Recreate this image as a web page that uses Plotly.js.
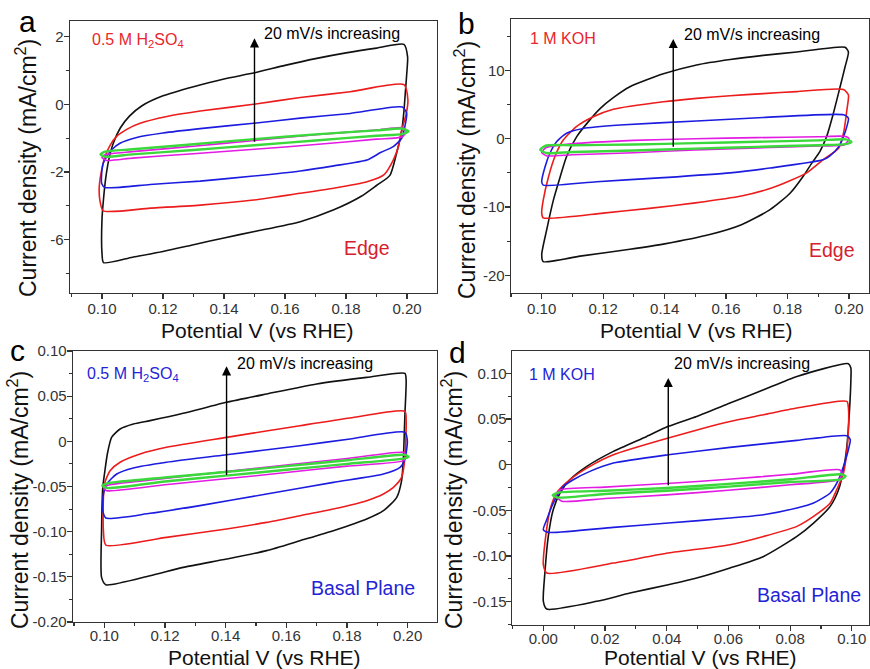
<!DOCTYPE html>
<html><head><meta charset="utf-8">
<script src="https://cdn.plot.ly/plotly-3.0.1.min.js"></script>
<style>html,body{margin:0;padding:0;background:#fff}#g{width:870px;height:669px}</style>
</head><body><div id="g"></div>
<script>
// ---------- Panel a : Edge, 0.5 M H2SO4 ----------
const a_black_x=[0.1000,0.1000,0.1005,0.1012,0.1022,0.1037,0.1060,0.1090,0.1130,0.1200,0.1300,0.1400,0.1500,0.1600,0.1700,0.1800,0.1900,0.1990,0.2002,0.2000,0.1995,0.1990,0.1983,0.1966,0.1944,0.1900,0.1850,0.1760,0.1650,0.1500,0.1400,0.1300,0.1200,0.1100,0.1005,0.1000];
const a_black_y=[-4.40,-3.40,-2.80,-2.20,-1.65,-1.15,-0.70,-0.35,-0.05,0.25,0.52,0.75,0.93,1.15,1.35,1.52,1.66,1.77,1.40,1.00,0.40,-0.20,-0.76,-1.44,-2.10,-2.40,-2.72,-3.12,-3.47,-3.76,-3.95,-4.15,-4.35,-4.52,-4.68,-4.40];
const a_red_x=[0.1004,0.0993,0.0991,0.0999,0.1010,0.1026,0.1048,0.1081,0.1125,0.1213,0.1322,0.1497,0.1650,0.1814,0.1990,0.2003,0.1998,0.1983,0.1972,0.1955,0.1925,0.1869,0.1760,0.1650,0.1497,0.1322,0.1158,0.1004];
const a_red_y=[-3.15,-2.83,-2.44,-1.94,-1.55,-1.22,-0.95,-0.74,-0.56,-0.36,-0.20,0.00,0.20,0.37,0.58,0.13,-0.26,-0.76,-1.25,-1.65,-2.08,-2.29,-2.48,-2.63,-2.83,-2.98,-3.07,-3.15];
const a_blue_x=[0.1010,0.0999,0.0999,0.1004,0.1015,0.1031,0.1059,0.1114,0.1200,0.1322,0.1497,0.1650,0.1814,0.1985,0.1999,0.1993,0.1983,0.1955,0.1915,0.1869,0.1760,0.1650,0.1497,0.1322,0.1158,0.1010];
const a_blue_y=[-2.46,-2.34,-2.04,-1.74,-1.55,-1.35,-1.15,-0.98,-0.85,-0.72,-0.56,-0.41,-0.27,-0.08,-0.27,-0.66,-1.00,-1.25,-1.42,-1.65,-1.82,-1.97,-2.12,-2.27,-2.37,-2.46];
const a_mag_x=[0.1000,0.1010,0.1100,0.1300,0.1500,0.1700,0.1900,0.1985,0.1998,0.1985,0.1900,0.1700,0.1500,0.1300,0.1100,0.1015,0.1000];
const a_mag_y=[-1.57,-1.49,-1.40,-1.24,-1.07,-0.90,-0.76,-0.69,-0.78,-0.96,-1.03,-1.19,-1.33,-1.46,-1.59,-1.66,-1.57];
const a_green_x=[0.0995,0.1010,0.1100,0.1300,0.1500,0.1700,0.1900,0.1985,0.2005,0.1985,0.1900,0.1700,0.1500,0.1300,0.1100,0.1010,0.0995];
const a_green_y=[-1.48,-1.40,-1.33,-1.18,-1.03,-0.89,-0.77,-0.72,-0.80,-0.88,-0.93,-1.07,-1.21,-1.35,-1.48,-1.55,-1.48];
const a_ytickvals=[2,0,-2,-4];
const a_yticktext=['2','0','-2','-6'];

// ---------- Panel b : Edge, 1 M KOH ----------
const b_black_x=[0.1000,0.1016,0.1038,0.1060,0.1081,0.1114,0.1152,0.1190,0.1233,0.1287,0.1396,0.1504,0.1613,0.1721,0.1830,0.1987,0.1998,0.1987,0.1971,0.1949,0.1927,0.1905,0.1880,0.1851,0.1808,0.1743,0.1650,0.1550,0.1400,0.1287,0.1125,0.1005,0.1000];
const b_black_y=[-17.0,-13.4,-9.0,-5.6,-2.6,0.3,2.5,4.4,6.0,7.6,9.5,10.8,11.6,12.2,12.7,13.4,12.7,10.5,7.6,3.7,0.3,-1.9,-3.5,-5.5,-8.0,-10.4,-12.6,-14.0,-15.4,-16.2,-17.2,-18.0,-17.0];
const b_red_x=[0.1000,0.1005,0.1022,0.1043,0.1070,0.1114,0.1168,0.1233,0.1396,0.1504,0.1613,0.1721,0.1830,0.1982,0.1998,0.1993,0.1982,0.1966,0.1915,0.1862,0.1800,0.1743,0.1650,0.1500,0.1350,0.1200,0.1005,0.1000];
const b_red_y=[-10.9,-9.0,-5.6,-2.6,-0.2,1.8,3.2,4.3,5.4,5.9,6.3,6.6,6.9,7.2,6.4,4.2,0.8,-1.4,-3.1,-5.0,-6.3,-7.3,-8.4,-9.4,-10.2,-10.9,-11.6,-10.9];
const b_blue_x=[0.1000,0.1011,0.1027,0.1049,0.1081,0.1135,0.1255,0.1504,0.1721,0.1982,0.1998,0.1993,0.1982,0.1966,0.1938,0.1915,0.1743,0.1613,0.1396,0.1179,0.1005,0.1000];
const b_blue_y=[-6.3,-4.1,-2.1,-0.4,0.8,1.5,2.0,2.6,3.1,3.5,3.0,1.8,0.3,-1.2,-2.5,-3.1,-4.3,-5.0,-5.7,-6.3,-6.8,-6.3];
const b_mag_x=[0.1000,0.1015,0.1100,0.1300,0.1500,0.1700,0.1900,0.1985,0.2000,0.1985,0.1900,0.1700,0.1500,0.1300,0.1100,0.1015,0.1000];
const b_mag_y=[-2.0,-1.3,-0.75,-0.25,0.0,0.15,0.28,0.35,0.0,-0.90,-1.05,-1.35,-1.65,-2.05,-2.35,-2.5,-2.0];
const b_green_x=[0.0995,0.1015,0.1100,0.1300,0.1500,0.1700,0.1900,0.1990,0.2008,0.1990,0.1900,0.1700,0.1500,0.1300,0.1100,0.1015,0.0995];
const b_green_y=[-1.6,-1.0,-0.95,-0.85,-0.65,-0.45,-0.25,-0.1,-0.45,-0.80,-0.95,-1.2,-1.45,-1.72,-1.95,-2.1,-1.6];
const b_ytickvals=[10,0,-10,-20];
const b_yticktext=['10','0','-10','-20'];

// ---------- Panel c : Basal Plane, 0.5 M H2SO4 ----------
const c_black_x=[0.0991,0.0991,0.0995,0.1002,0.1010,0.1024,0.1052,0.1096,0.1151,0.1260,0.1403,0.1535,0.1700,0.1865,0.1991,0.1995,0.1991,0.1986,0.1980,0.1964,0.1920,0.1865,0.1755,0.1645,0.1535,0.1403,0.1260,0.1151,0.1005,0.0991];
const c_black_y=[-0.1506,-0.0989,-0.0509,-0.0325,-0.0140,0.0044,0.0137,0.0192,0.0229,0.0310,0.0432,0.0524,0.0635,0.0708,0.0753,0.0672,0.0303,-0.0177,-0.0435,-0.0620,-0.0768,-0.0860,-0.0989,-0.1100,-0.1210,-0.1303,-0.1395,-0.1487,-0.1587,-0.1506];
const c_red_x=[0.0997,0.0997,0.1002,0.1019,0.1052,0.1118,0.1205,0.1403,0.1645,0.1810,0.1991,0.1995,0.1991,0.1980,0.1953,0.1920,0.1865,0.1755,0.1645,0.1535,0.1403,0.1205,0.1005,0.0997];
const c_red_y=[-0.0989,-0.0620,-0.0454,-0.0325,-0.0232,-0.0140,-0.0066,0.0044,0.0173,0.0258,0.0332,0.0229,-0.0177,-0.0399,-0.0509,-0.0583,-0.0657,-0.0749,-0.0823,-0.0897,-0.0970,-0.1063,-0.1148,-0.0989];
const c_blue_x=[0.0995,0.0997,0.1008,0.1041,0.1096,0.1205,0.1403,0.1645,0.1810,0.1991,0.1999,0.1991,0.1975,0.1920,0.1755,0.1535,0.1315,0.1151,0.1005,0.0995];
const c_blue_y=[-0.0768,-0.0583,-0.0472,-0.0362,-0.0295,-0.0232,-0.0148,-0.0048,0.0026,0.0100,0.0007,-0.0196,-0.0288,-0.0362,-0.0454,-0.0583,-0.0712,-0.0797,-0.0849,-0.0768];
const c_mag_x=[0.0997,0.1019,0.1200,0.1400,0.1600,0.1800,0.1986,0.1997,0.1986,0.1800,0.1600,0.1400,0.1200,0.1008,0.0997];
const c_mag_y=[-0.0510,-0.0480,-0.0410,-0.0335,-0.0262,-0.0190,-0.0122,-0.0160,-0.0214,-0.0275,-0.0345,-0.0415,-0.0480,-0.0546,-0.0510];
const c_green_x=[0.0993,0.1010,0.1200,0.1400,0.1600,0.1800,0.1990,0.2003,0.1990,0.1800,0.1600,0.1400,0.1200,0.1010,0.0993];
const c_green_y=[-0.0490,-0.0465,-0.0400,-0.0340,-0.0275,-0.0210,-0.0150,-0.0170,-0.0188,-0.0250,-0.0315,-0.0380,-0.0445,-0.0517,-0.0490];
const c_ytickvals=[0.10,0.05,0,-0.05,-0.10,-0.15,-0.20];
const c_yticktext=['0.10','0.05','0','-0.05','-0.10','-0.15','-0.20'];

// ---------- Panel d : Basal Plane, 1 M KOH ----------
const d_black_x=[0.0000,0.0005,0.0016,0.0032,0.0054,0.0086,0.0141,0.0227,0.0335,0.0405,0.0497,0.0605,0.0714,0.0822,0.0989,0.0997,0.0997,0.0992,0.0984,0.0973,0.0957,0.0930,0.0876,0.0822,0.0714,0.0605,0.0497,0.0405,0.0281,0.0173,0.0011,0.0000];
const d_black_y=[-0.1496,-0.1186,-0.0785,-0.0493,-0.0310,-0.0164,-0.0018,0.0146,0.0310,0.0420,0.0529,0.0675,0.0821,0.0967,0.1106,0.1058,0.0931,0.0566,0.0201,-0.0055,-0.0274,-0.0456,-0.0639,-0.0785,-0.1004,-0.1131,-0.1241,-0.1314,-0.1405,-0.1496,-0.1580,-0.1496];
const d_red_x=[0.0000,0.0005,0.0022,0.0043,0.0086,0.0151,0.0227,0.0405,0.0605,0.0714,0.0822,0.0984,0.0989,0.0989,0.0982,0.0973,0.0951,0.0930,0.0876,0.0822,0.0714,0.0605,0.0405,0.0227,0.0011,0.0000];
const d_red_y=[-0.1095,-0.0858,-0.0493,-0.0310,-0.0164,-0.0018,0.0109,0.0292,0.0474,0.0547,0.0620,0.0693,0.0620,0.0383,0.0091,-0.0091,-0.0274,-0.0420,-0.0566,-0.0675,-0.0785,-0.0876,-0.0967,-0.1077,-0.1186,-0.1095];
const d_blue_x=[0.0000,0.0011,0.0032,0.0065,0.0097,0.0151,0.0227,0.0405,0.0605,0.0822,0.0984,0.0995,0.0986,0.0973,0.0957,0.0930,0.0876,0.0822,0.0714,0.0605,0.0405,0.0227,0.0016,0.0000];
const d_blue_y=[-0.0712,-0.0602,-0.0420,-0.0237,-0.0164,-0.0073,0.0018,0.0109,0.0190,0.0266,0.0318,0.0274,0.0128,-0.0018,-0.0164,-0.0310,-0.0420,-0.0474,-0.0547,-0.0584,-0.0639,-0.0686,-0.0741,-0.0712];
const d_mag_x=[0.0040,0.0055,0.0200,0.0400,0.0600,0.0800,0.0960,0.0970,0.0955,0.0800,0.0600,0.0400,0.0200,0.0060,0.0040];
const d_mag_y=[-0.0340,-0.0275,-0.0245,-0.0205,-0.0160,-0.0105,-0.0055,-0.0100,-0.0165,-0.0220,-0.0280,-0.0330,-0.0370,-0.0400,-0.0340];
const d_green_x=[0.0030,0.0050,0.0200,0.0400,0.0600,0.0800,0.0965,0.0980,0.0965,0.0800,0.0600,0.0400,0.0200,0.0050,0.0030];
const d_green_y=[-0.0335,-0.0305,-0.0285,-0.0255,-0.0210,-0.0160,-0.0105,-0.0125,-0.0160,-0.0190,-0.0240,-0.0285,-0.0320,-0.0360,-0.0335];
const d_ytickvals=[0.10,0.05,0,-0.05,-0.10,-0.15];
const d_yticktext=['0.10','0.05','0','-0.05','-0.10','-0.15'];

const abc_xtickvals=[0.10,0.12,0.14,0.16,0.18,0.20];
const abc_xticktext=['0.10','0.12','0.14','0.16','0.18','0.20'];
const d_xtickvals=[0.00,0.02,0.04,0.06,0.08,0.10];
const d_xticktext=['0.00','0.02','0.04','0.06','0.08','0.10'];

// ---------- styling ----------
const COL={black:'#111111',red:'#ec1c1c',blue:'#1c1ce0',mag:'#e31ce3',green:'#3ad83a'};
const FONT='Liberation Sans, Arial, sans-serif';
const P=x=>x/870, Q=y=>1-y/669;

function loop(x,y,color,w,k){
  return {type:'scatter',mode:'lines',x:x,y:y,xaxis:'x'+(k>1?k:''),yaxis:'y'+(k>1?k:''),
    line:{color:color,width:w,shape:'spline',smoothing:0.6},hoverinfo:'skip',showlegend:false};
}
const traces=[];
function addPanel(k,bx,by,rx,ry,bux,buy,mx,my,gx,gy){
  traces.push(loop(bx,by,COL.black,1.6,k));
  traces.push(loop(rx,ry,COL.red,1.6,k));
  traces.push(loop(bux,buy,COL.blue,1.6,k));
  traces.push(loop(mx,my,COL.mag,1.6,k));
  traces.push(loop(gx,gy,COL.green,2.4,k));
}
addPanel(1,a_black_x,a_black_y,a_red_x,a_red_y,a_blue_x,a_blue_y,a_mag_x,a_mag_y,a_green_x,a_green_y);
addPanel(2,b_black_x,b_black_y,b_red_x,b_red_y,b_blue_x,b_blue_y,b_mag_x,b_mag_y,b_green_x,b_green_y);
addPanel(3,c_black_x,c_black_y,c_red_x,c_red_y,c_blue_x,c_blue_y,c_mag_x,c_mag_y,c_green_x,c_green_y);
addPanel(4,d_black_x,d_black_y,d_red_x,d_red_y,d_blue_x,d_blue_y,d_mag_x,d_mag_y,d_green_x,d_green_y);

function xax(dom,anchor,range,tv,tt,minorDt,so){
  return {domain:dom,anchor:anchor,range:range,tickmode:'array',tickvals:tv,ticktext:tt,
    ticks:'outside',ticklen:5,tickwidth:1.2,tickcolor:'#333',showgrid:false,zeroline:false,
    showline:true,mirror:true,linecolor:'#333',linewidth:1.3,ticklabelstandoff:(so===undefined?-3:so),
    tickfont:{family:FONT,size:15,color:'#333'},
    minor:{tickmode:'linear',tick0:0,dtick:minorDt,ticks:'outside',ticklen:3,tickwidth:1.1,tickcolor:'#333',showgrid:false}};
}
const layout={
  width:870,height:669,margin:{l:0,r:0,t:0,b:0},paper_bgcolor:'#fff',plot_bgcolor:'#fff',
  showlegend:false,font:{family:FONT},
  xaxis: xax([P(70),P(437)],'y',[0.08951,0.20984],abc_xtickvals,abc_xticktext,0.01),
  yaxis: xax([Q(293),Q(21)],'x',[-5.578,2.462],a_ytickvals,a_yticktext,1),
  xaxis2:xax([P(511),P(869)],'y2',[0.09001,0.2065],abc_xtickvals,abc_xticktext,0.01),
  yaxis2:xax([Q(293),Q(19)],'x2',[-22.6,17.53],b_ytickvals,b_yticktext,5),
  xaxis3:xax([P(73),P(437)],'y3',[0.08968,0.20967],abc_xtickvals,abc_xticktext,0.01,-5),
  yaxis3:xax([Q(622),Q(351)],'x3',[-0.2,0.1],c_ytickvals,c_yticktext,0.025),
  xaxis4:xax([P(512),P(869)],'y4',[-0.01016,0.10557],d_xtickvals,d_xticktext,0.01,-5),
  yaxis4:xax([Q(625),Q(351)],'x4',[-0.1755,0.1245],d_ytickvals,d_yticktext,0.025,-4),
  annotations:[]
};
const ann=layout.annotations;
function txt(t,x,y,size,color,xanchor,extra){
  ann.push(Object.assign({text:t,xref:'paper',yref:'paper',x:P(x),y:Q(y),xanchor:xanchor,yanchor:'middle',
    showarrow:false,font:{family:FONT,size:size,color:color}},extra||{}));
}
// panel letters
txt('a',27,22,30,'#000','center');
txt('b',466,24,30,'#000','center');
txt('c',17,350,30,'#000','center');
txt('d',457,352,30,'#000','center');
// axis titles
const YT='Current density (mA/cm<sup>2</sup>)', XT='Potential V (vs RHE)';
txt(YT,26,168,23,'#111','center',{textangle:-90});
txt(YT,465,170,23,'#111','center',{textangle:-90});
txt(YT,18,500,23,'#111','center',{textangle:-90});
txt(YT,452,500,23,'#111','center',{textangle:-90});
txt(XT,257,330,21,'#111','center');
txt(XT,696,330,21,'#111','center');
txt(XT,264,657.5,21,'#111','center');
txt(XT,700,657.5,21,'#111','center');
// in-plot labels
const EDGE='#d6202e', RED='#e8262c', BLU='#1f24d6';
txt('0.5 M H<sub>2</sub>SO<sub>4</sub>',90,40,16,RED,'left');
txt('20 mV/s increasing',262,33,16,'#000','left');
txt('Edge',392,248,19.5,EDGE,'right');
txt('1 M KOH',528,39,16,RED,'left');
txt('20 mV/s increasing',682,35,16,'#000','left');
txt('Edge',857,250,19.5,EDGE,'right');
txt('0.5 M H<sub>2</sub>SO<sub>4</sub>',85,374,16,BLU,'left');
txt('20 mV/s increasing',235,363,16,'#000','left');
txt('Basal Plane',417,588,19.5,BLU,'right');
txt('1 M KOH',527,375,16,BLU,'left');
txt('20 mV/s increasing',672,363,16,'#000','left');
txt('Basal Plane',863,595,19.5,BLU,'right');
// arrows
function arrow(k,x,y0,y1){
  const s=k>1?k:'';
  ann.push({xref:'x'+s,yref:'y'+s,axref:'x'+s,ayref:'y'+s,x:x,y:y1,ax:x,ay:y0,text:'',
    showarrow:true,arrowhead:2,arrowsize:1.3,arrowwidth:1.4,arrowcolor:'#000',standoff:0,startstandoff:0});
}
arrow(1,0.1500,-1.15,1.95);
arrow(2,0.1428,-1.4,14.6);
arrow(3,0.1403,-0.039,0.083);
arrow(4,0.0405,-0.024,0.095);

Plotly.newPlot('g',traces,layout,{staticPlot:true,displayModeBar:false});
</script></body></html>
